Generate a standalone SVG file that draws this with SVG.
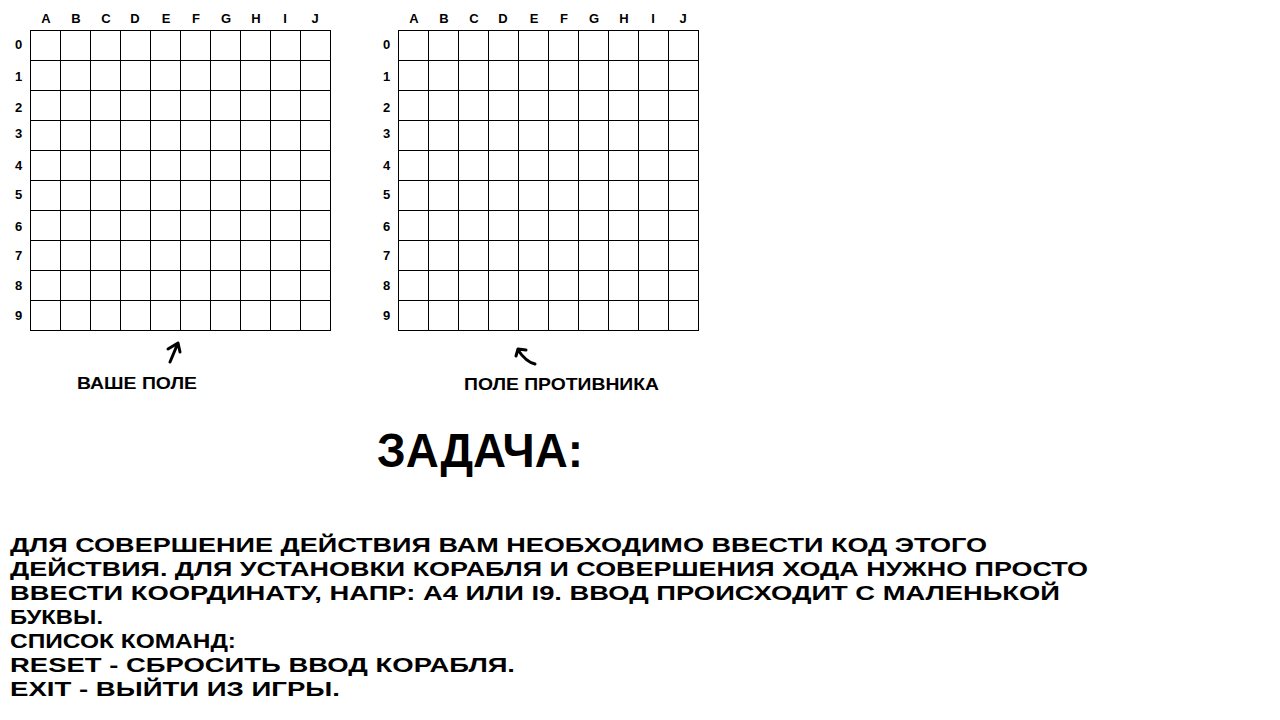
<svg xmlns="http://www.w3.org/2000/svg" width="1280" height="720" viewBox="0 0 1280 720">
<style>
.grid{fill:none;stroke:#000;stroke-width:1}
.lbl{font-family:"Liberation Sans",Arial,sans-serif;font-weight:bold;font-size:13px;fill:#000;text-anchor:middle}
.cap{font-family:"Liberation Sans",Arial,sans-serif;font-weight:bold;fill:#000}
.arrow{fill:none;stroke:#000;stroke-width:3;stroke-linecap:round;stroke-linejoin:round}
</style>
<defs>
<g id="board">
<rect class="grid" x="0.5" y="0.5" width="300" height="300"/>
<path class="grid" d="M30.5 0.5V300.5M60.5 0.5V300.5M90.5 0.5V300.5M120.5 0.5V300.5M150.5 0.5V300.5M180.5 0.5V300.5M210.5 0.5V300.5M240.5 0.5V300.5M270.5 0.5V300.5M0.5 30.5H300.5M0.5 60.5H300.5M0.5 90.5H300.5M0.5 120.5H300.5M0.5 150.5H300.5M0.5 180.5H300.5M0.5 210.5H300.5M0.5 240.5H300.5M0.5 270.5H300.5"/>
<g class="lbl">
<text x="16" y="-7.5">A</text><text x="46" y="-7.5">B</text><text x="76" y="-7.5">C</text><text x="105" y="-7.5">D</text><text x="136" y="-7.5">E</text><text x="166" y="-7.5">F</text><text x="196" y="-7.5">G</text><text x="226" y="-7.5">H</text><text x="255" y="-7.5">I</text><text x="285" y="-7.5">J</text>
<text x="-11.5" y="19">0</text><text x="-11.5" y="51">1</text><text x="-11.5" y="82">2</text><text x="-11.5" y="108">3</text><text x="-11.5" y="140">4</text><text x="-11.5" y="169">5</text><text x="-11.5" y="201">6</text><text x="-11.5" y="230">7</text><text x="-11.5" y="260">8</text><text x="-11.5" y="290">9</text>
</g>
</g>
</defs>
<rect width="1280" height="720" fill="#fff"/>
<g id="your-field"><use href="#board" x="30" y="30"/></g>
<g id="enemy-field"><use href="#board" x="398" y="30"/></g>
<g id="connectors">
<path class="arrow" d="M170 362 L178 343 M168 349 L178 343 L180 352"/>
<path class="arrow" d="M535 364 Q526 362 518 350 M516 356 L518 349 L526 350"/>
</g>
<g id="label-your">
<text class="cap" x="77" y="389" font-size="17" textLength="120" lengthAdjust="spacingAndGlyphs">ВАШЕ ПОЛЕ</text>
</g>
<g id="label-enemy">
<text class="cap" x="464" y="390" font-size="17" textLength="195" lengthAdjust="spacingAndGlyphs">ПОЛЕ ПРОТИВНИКА</text>
</g>
<g id="title">
<text class="cap" x="377" y="467" font-size="48" textLength="206" lengthAdjust="spacingAndGlyphs">ЗАДАЧА:</text>
</g>
<g id="task" class="cap" font-size="21">
<text x="10" y="552" textLength="977" lengthAdjust="spacingAndGlyphs">ДЛЯ СОВЕРШЕНИЕ ДЕЙСТВИЯ ВАМ НЕОБХОДИМО ВВЕСТИ КОД ЭТОГО</text>
<text x="10" y="576" textLength="1078" lengthAdjust="spacingAndGlyphs">ДЕЙСТВИЯ. ДЛЯ УСТАНОВКИ КОРАБЛЯ И СОВЕРШЕНИЯ ХОДА НУЖНО ПРОСТО</text>
<text x="10" y="600" textLength="1050" lengthAdjust="spacingAndGlyphs">ВВЕСТИ КООРДИНАТУ, НАПР: А4 ИЛИ I9. ВВОД ПРОИСХОДИТ С МАЛЕНЬКОЙ</text>
<text x="10" y="624" textLength="93" lengthAdjust="spacingAndGlyphs">БУКВЫ.</text>
<text x="10" y="648" textLength="226" lengthAdjust="spacingAndGlyphs">СПИСОК КОМАНД:</text>
<text x="10" y="672" textLength="505" lengthAdjust="spacingAndGlyphs">RESET - СБРОСИТЬ ВВОД КОРАБЛЯ.</text>
<text x="10" y="696" textLength="330" lengthAdjust="spacingAndGlyphs">EXIT - ВЫЙТИ ИЗ ИГРЫ.</text>
</g>
</svg>
